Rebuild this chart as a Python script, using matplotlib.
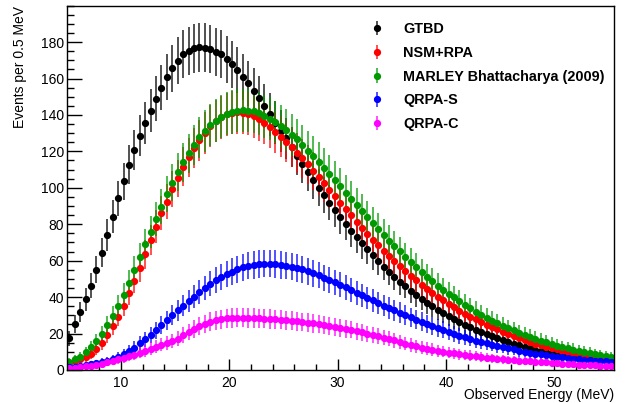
import numpy as np
import matplotlib
matplotlib.use("Agg")
import matplotlib.pyplot as plt
from matplotlib.ticker import MultipleLocator

plt.rcParams['font.family'] = ['Liberation Sans', 'DejaVu Sans']

# bin centres, 0.5 MeV bins from 5 to 55.5 MeV
energy = np.arange(5.25, 55.5, 0.5)

gtbd = [17.4, 25.1, 31.8, 38.8, 46.3, 54.9, 64.4, 74.1, 84.2, 94.2, 103.7, 112.7, 120.7, 128.6, 135.7, 142.3, 148.9, 155.0, 160.6, 165.6, 169.8,
        173.2, 175.3, 176.5, 177.1, 176.9, 176.2, 174.7, 173.2, 170.5, 167.8, 164.7, 161.0, 157.3, 153.3, 149.1, 144.9, 140.3, 135.8, 131.3, 127.2,
        122.4, 117.6, 113.2, 108.8, 104.3, 100.1, 96.0, 91.8, 87.8, 83.8, 80.1, 76.3, 72.8, 69.5, 66.2, 62.9, 59.8, 56.7, 53.8, 51.0, 48.3,
        46.1, 43.5, 41.2, 39.0, 36.9, 35.0, 33.1, 31.3, 29.6, 27.8, 26.3, 24.9, 23.4, 22.1, 20.9, 19.6, 18.5, 17.4, 16.3, 15.2,
        14.4, 13.5, 12.6, 11.9, 11.0, 10.4, 9.7, 9.1, 8.6, 8.0, 7.5, 7.1, 6.8, 6.4, 6.0, 5.7, 5.5, 5.3, 4.9]

nsm_rpa = [4.0, 4.8, 5.8, 7.1, 8.9, 11.3, 14.6, 19.0, 24.0, 29.3, 35.3, 42.1, 49.0, 55.8, 63.5, 71.3, 78.7, 86.0, 92.4, 99.2, 105.2,
           111.6, 116.7, 121.7, 126.2, 130.2, 133.9, 136.7, 138.7, 140.3, 141.2, 141.4, 141.2, 140.7, 139.4, 137.7, 135.7, 133.5, 130.8, 128.0, 125.3,
           122.2, 119.3, 116.2, 112.9, 109.4, 106.1, 102.5, 99.0, 95.5, 91.8, 88.4, 84.9, 81.4, 78.1, 74.8, 71.5, 68.4, 65.5, 62.6, 59.8, 57.1,
           54.3, 51.6, 49.2, 46.7, 44.3, 42.3, 40.3, 38.2, 36.2, 34.4, 32.6, 30.9, 29.3, 27.8, 26.3, 24.9, 23.6, 22.3, 21.0, 19.9,
           18.7, 17.6, 16.5, 15.4, 14.5, 13.5, 12.8, 12.1, 11.3, 10.6, 9.9, 9.3, 8.8, 8.2, 7.7, 7.1, 6.8, 6.2, 5.9]

marley = [4.6, 5.8, 7.3, 9.7, 12.4, 15.9, 19.8, 24.5, 29.8, 35.3, 41.3, 47.9, 54.9, 61.8, 69.0, 75.9, 82.9, 89.6, 96.6, 102.8, 108.5,
          114.0, 118.9, 123.5, 127.7, 131.2, 134.3, 136.8, 138.9, 140.7, 141.6, 142.3, 142.5, 142.3, 142.0, 140.9, 139.4, 137.9, 136.1, 133.9, 131.7,
          129.0, 126.6, 123.5, 120.4, 117.5, 114.2, 111.1, 107.6, 104.3, 100.8, 97.3, 94.0, 90.6, 87.3, 83.8, 80.5, 77.2, 74.1, 71.0, 68.1, 65.1,
          61.8, 59.3, 56.5, 53.8, 51.2, 48.8, 46.3, 44.1, 41.9, 39.9, 37.7, 35.9, 33.8, 32.0, 30.4, 28.7, 27.1, 25.8, 24.3, 22.9,
          21.8, 20.3, 19.2, 18.1, 17.0, 16.1, 15.2, 14.3, 13.4, 12.6, 11.9, 11.2, 10.4, 9.9, 9.3, 8.8, 8.2, 7.7, 7.1]

qrpa_s = [1.5, 1.8, 2.2, 2.6, 3.1, 3.7, 4.4, 5.1, 6.0, 7.1, 8.6, 10.4, 12.2, 14.6, 16.8, 19.2, 21.8, 24.5, 27.3, 30.0, 32.8,
          35.3, 37.9, 40.2, 42.8, 45.0, 47.2, 49.4, 51.0, 52.7, 54.0, 55.3, 56.3, 57.3, 57.8, 58.2, 58.4, 58.4, 58.2, 57.8, 57.3,
          56.7, 56.0, 55.3, 54.2, 53.1, 52.0, 50.7, 49.4, 48.1, 46.7, 45.4, 43.9, 42.4, 41.0, 39.5, 38.2, 36.8, 35.3, 34.0, 32.8, 31.5,
          30.4, 28.9, 27.6, 26.5, 25.2, 24.1, 23.1, 22.0, 20.9, 19.9, 18.8, 17.9, 17.0, 16.1, 15.4, 14.6, 13.9, 13.2, 12.6, 11.9,
          11.3, 10.6, 10.1, 9.5, 9.0, 8.6, 8.0, 7.7, 7.3, 7.0, 6.6, 6.2, 6.0, 5.7, 5.5, 5.1, 4.9, 4.8, 4.4]

qrpa_c = [1.1, 1.3, 1.6, 2.0, 2.4, 2.9, 3.5, 4.2, 4.9, 5.8, 6.4, 7.5, 8.4, 9.5, 10.6, 11.7, 12.8, 13.9, 15.0, 15.9, 17.2,
          19.0, 20.8, 22.5, 24.0, 25.4, 26.5, 27.3, 27.9, 28.3, 28.5, 28.7, 28.7, 28.5, 28.5, 28.4, 28.2, 28.0, 27.8, 27.6, 27.4,
          27.1, 26.7, 26.3, 26.0, 25.6, 25.2, 24.7, 24.1, 23.6, 23.1, 22.5, 22.0, 21.2, 20.7, 19.9, 19.2, 18.5, 17.7, 17.0, 16.3, 15.5,
          14.5, 13.7, 13.0, 12.3, 11.7, 11.2, 10.6, 10.1, 9.5, 9.1, 8.6, 8.2, 7.9, 7.5, 7.1, 6.8, 6.4, 6.0, 5.9, 5.5,
          5.3, 5.1, 4.9, 4.7, 4.5, 4.3, 4.1, 3.9, 3.7, 3.5, 3.3, 3.1, 2.9, 2.8, 2.7, 2.5, 2.4, 2.3, 2.2]

labels = ["GTBD", "NSM+RPA", "MARLEY Bhattacharya (2009)", "QRPA-S", "QRPA-C"]
colors = ["#000000", "#ff0000", "#009900", "#0000ff", "#ff00ff"]
series = [gtbd, nsm_rpa, marley, qrpa_s, qrpa_c]

fig = plt.figure(figsize=(6.29, 4.03), dpi=100)
ax = fig.add_axes([0.106, 0.082, 0.870, 0.904])

for vals, lab, col in zip(series, labels, colors):
    y = np.array(vals)
    eb = ax.errorbar(energy, y, yerr=np.sqrt(y), fmt='o', color=col, ecolor=col,
                     markersize=4.2, elinewidth=1.2, capsize=0, label=lab)
    eb[2][0].set_alpha(0.8)

ax.set_xlim(5, 55.5)
ax.set_ylim(0, 200)

ax.xaxis.set_major_locator(MultipleLocator(10))
ax.xaxis.set_minor_locator(MultipleLocator(2))
ax.yaxis.set_major_locator(MultipleLocator(20))
ax.yaxis.set_minor_locator(MultipleLocator(5))
ax.tick_params(axis='both', which='both', direction='in', top=False, right=False, labelsize=10)
ax.tick_params(axis='y', which='major', length=11, width=1)
ax.tick_params(axis='y', which='minor', length=5, width=1)
ax.tick_params(axis='x', which='major', length=8, width=1, pad=4)
ax.tick_params(axis='x', which='minor', length=4.3, width=1)
ax.tick_params(axis='y', pad=2)
ax.set_yticks([0, 20, 40, 60, 80, 100, 120, 140, 160, 180])

for sp in ax.spines.values():
    sp.set_linewidth(1)

ax.set_ylabel("Events per 0.5 MeV", fontsize=10, loc='top')
ax.yaxis.set_label_coords(-0.073, 1.0)
ax.set_xlabel("Observed Energy (MeV)", fontsize=10, loc='right')
ax.xaxis.set_label_coords(1.0, -0.069)
ax.xaxis.label.set_va('center')

leg = ax.legend(loc='upper left', bbox_to_anchor=(0.54, 0.975), frameon=False,
                prop={'weight': 'bold', 'size': 10.4}, handlelength=1.0,
                handletextpad=1.35, labelspacing=0.68, borderpad=0)

fig.savefig("out.png", dpi=100)
